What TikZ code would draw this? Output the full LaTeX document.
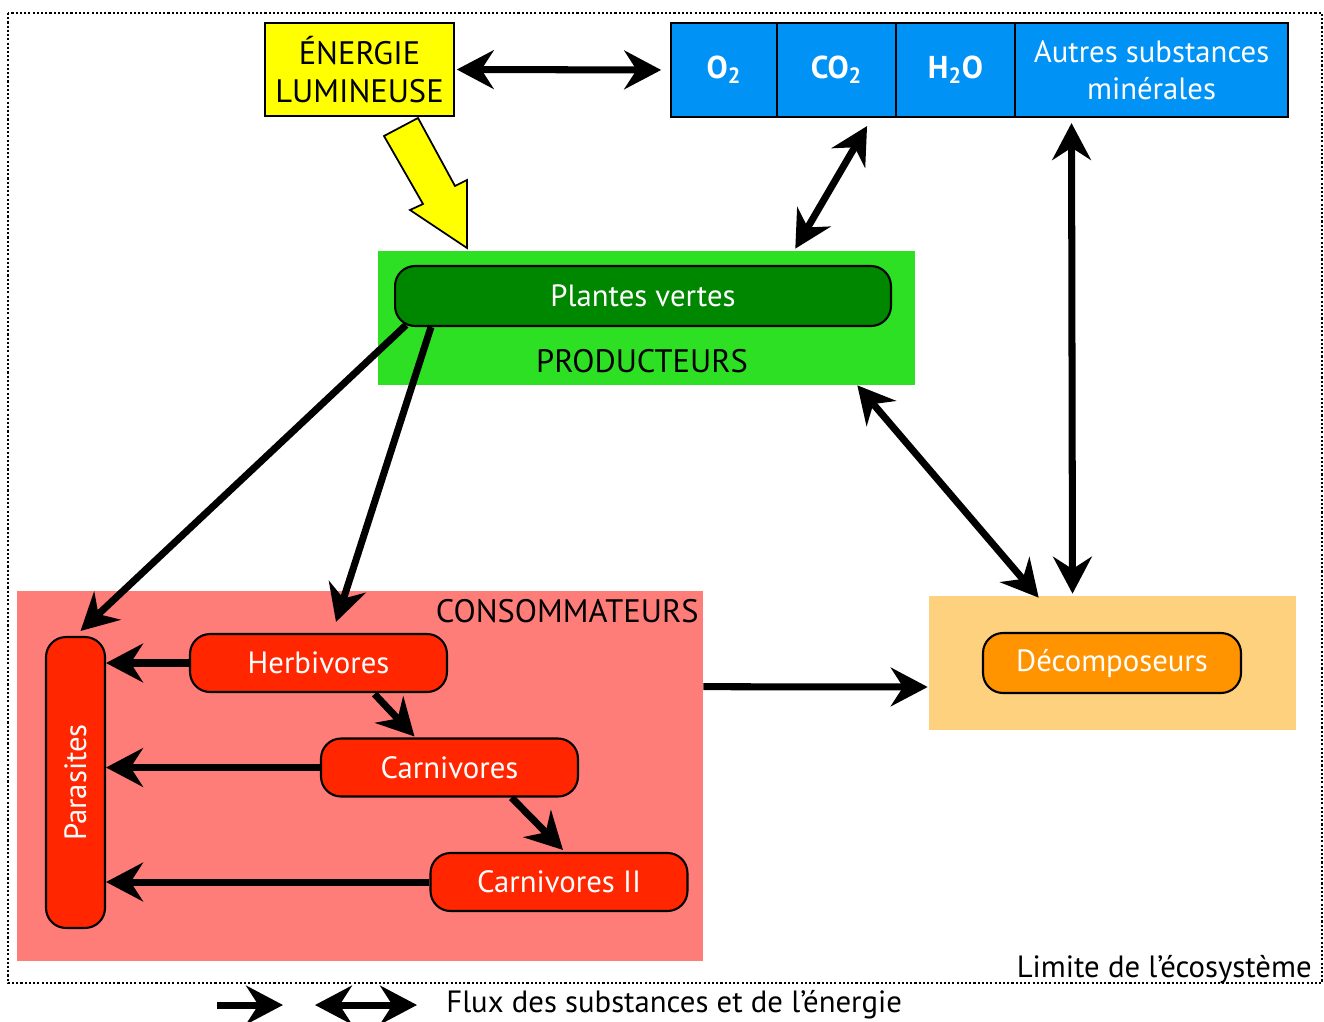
\documentclass[tikz,border=0pt]{standalone}
\usepackage{fontspec}
\setmainfont{PT Sans}
\usetikzlibrary{arrows.meta,calc}
\definecolor{jaune}{RGB}{255,255,0}
\definecolor{bleu}{RGB}{0,146,245}
\definecolor{vertclair}{RGB}{46,224,36}
\definecolor{vertfonce}{RGB}{0,135,0}
\definecolor{rose}{RGB}{255,125,120}
\definecolor{rouge}{RGB}{255,38,0}
\definecolor{beige}{RGB}{253,209,125}
\definecolor{orangevif}{RGB}{255,147,0}
\begin{document}
\begin{tikzpicture}[x=0.02cm,y=-0.02cm,
  every node/.style={font=\fontsize{17.5}{21}\selectfont, align=center, inner sep=0pt},
  titre/.style={font=\fontsize{18.5}{21.5}\selectfont},
  fond/.style={rectangle, fill=#1},
  boite/.style={rectangle, draw=black, line width=1.2pt, fill=#1},
  chimie/.style={boite=bleu, text=white, minimum height=1.88cm, font=\fontsize{18}{21}\selectfont\bfseries},
  etiq/.style={rectangle, rounded corners=0.4cm, draw=black, line width=1.2pt, fill=#1, text=white, minimum height=1.2cm},
  flux/.style={line width=4pt, -{Stealth[length=21pt,width=22pt,inset=7pt]}},
  flux2/.style={line width=4pt, {Stealth[length=21pt,width=22pt,inset=7pt]}-{Stealth[length=21pt,width=22pt,inset=7pt]}}]
\useasboundingbox (0,0) rectangle (1324,1021);
\draw[line width=1.2pt, dash pattern=on 1.2pt off 1.2pt] (8,13) rectangle (1322,983);
\node[boite=jaune, titre, minimum width=3.78cm, minimum height=1.86cm] (energie) at (359.5,69.5) {ÉNERGIE\\LUMINEUSE};
\node[chimie, minimum width=2.12cm] (o2) at (724,70) {O\textsubscript{2}};
\node[chimie, minimum width=2.38cm] (co2) at (836.5,70) {CO\textsubscript{2}};
\node[chimie, minimum width=2.38cm] (h2o) at (955.5,70) {H\textsubscript{2}O};
\node[boite=bleu, text=white, minimum width=5.46cm, minimum height=1.88cm] (autres) at (1151.5,70) {Autres substances\\minérales};
\node[fond=vertclair, minimum width=10.74cm, minimum height=2.68cm] (producteurs) at (646.5,318) {};
\node[etiq=vertfonce, minimum width=9.92cm] (plantes) at (643,296) {Plantes vertes};
\node[titre] (prodtexte) at (642,361) {PRODUCTEURS};
\node[fond=rose, minimum width=13.72cm, minimum height=7.4cm] (conso) at (360,776) {};
\node[titre, anchor=east] (consotexte) at (699,611) {CONSOMMATEURS};
\node[etiq=rouge, minimum width=1.18cm, minimum height=5.82cm] (parasites) at (75.5,782.5) {\rotatebox{90}{Parasites}};
\node[etiq=rouge, minimum width=5.14cm, minimum height=1.16cm] (herbivores) at (318.5,663) {Herbivores};
\node[etiq=rouge, minimum width=5.14cm, minimum height=1.16cm] (carnivores) at (449.5,767.5) {Carnivores};
\node[etiq=rouge, minimum width=5.14cm, minimum height=1.16cm] (carnivores2) at (559,882) {Carnivores II};
\node[fond=beige, minimum width=7.34cm, minimum height=2.68cm] (decomp) at (1112.5,663) {};
\node[etiq=orangevif, minimum width=5.16cm] (decomposeurs) at (1112,663) {Décomposeurs};
\node[anchor=base east] (limite) at (1312,977) {Limite de l’écosystème};
\draw[line width=1pt, fill=jaune] (418,118) -- (455,186) -- (467,180) -- (467,248) -- (410,210) -- (423,204) -- (384,136) -- cycle;
\draw[flux2, shorten <=1pt, shorten >=5pt] (energie.east) -- (o2.west);
\draw[flux2] ($(co2.south east)+(-30,8)$) -- ($(producteurs.north east)+(-120,-2)$);
\draw[flux2] ($(autres.south)+(-80,5)$) -- ($(decomp.north)+(-40,-2)$);
\draw[flux2] ($(producteurs.south east)+(-58,0)$) -- ($(decomp.north west)+(110,2)$);
\draw[flux] ($(plantes.south west)+(12,-2)$) -- ($(parasites.north)+(5,-5)$);
\draw[flux] ($(plantes.south west)+(37,0)$) -- ($(herbivores.north)+(17.5,-11)$);
\draw[flux] (herbivores.west) -- (herbivores.west -| parasites.east);
\draw[flux] (carnivores.west) -- (carnivores.west -| parasites.east);
\draw[flux] (carnivores2.west) -- (carnivores2.west -| parasites.east);
\draw[flux] ($(herbivores.south)+(56,1)$) -- ($(carnivores.north)+(-35,-1)$);
\draw[flux] ($(carnivores.south)+(62,0)$) -- ($(carnivores2.north)+(4,-2)$);
\draw[flux] ($(conso.north east)+(0,96)$) -- ($(decomp.west)+(-1,24)$);
\coordinate (l1) at (217,1005);
\coordinate (l2) at (283,1005);
\coordinate (l3) at (315,1005);
\coordinate (l4) at (417,1005);
\node[anchor=west] (legende) at (446,1005) {Flux des substances et de l’énergie};
\draw[flux] (l1) -- (l2);
\draw[flux2] (l3) -- (l4);
\end{tikzpicture}
\end{document}
